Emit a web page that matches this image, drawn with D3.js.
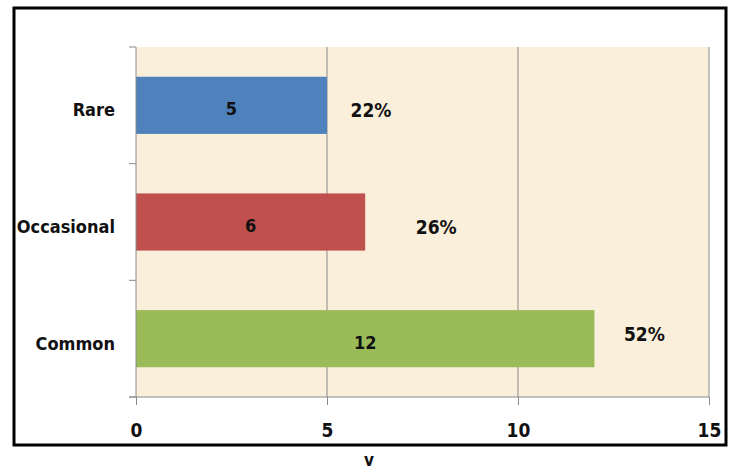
<!DOCTYPE html>
<html><head><meta charset="utf-8">
<script src="https://cdn.jsdelivr.net/npm/d3@7"></script>
<style>
html,body{margin:0;padding:0;background:#fff;}
svg text{font-family:"DejaVu Sans Condensed","Liberation Sans Narrow","Open Sans",sans-serif;font-weight:bold;fill:#111;}
</style></head>
<body>
<svg id="c" width="735" height="471"></svg>
<script>
const categories = ["Rare", "Occasional", "Common"];
const values = [5, 6, 12];
const barColors = ["#4F81BD", "#C0504D", "#9BBB59"];
const xTicks = [0, 5, 10, 15];
const axisTitle = "v";

const total = d3.sum(values);
const pctLabels = values.map(v => Math.round(v / total * 100) + "%");
const pctOffsets = [44, 71, 50];   // px right of bar end (text centre)
const pctDy = [4, 4, -6];

const svg = d3.select("#c");
const m = {left: 136, right: 709, top: 47, bottom: 397};

const x = d3.scaleLinear().domain([0, 15]).range([m.left, m.right]);
const y = d3.scaleBand().domain(categories).range([m.top, m.bottom])
  .paddingInner(0.51).paddingOuter(0.255);

// plot background
svg.append("rect").attr("x", m.left).attr("y", m.top)
  .attr("width", m.right - m.left).attr("height", m.bottom - m.top)
  .attr("fill", "#FAEFDB");

// vertical gridlines
svg.append("g").selectAll("line").data(xTicks.filter(t => t > 0)).join("line")
  .attr("x1", d => x(d)).attr("x2", d => x(d))
  .attr("y1", m.top).attr("y2", m.bottom)
  .attr("stroke", "#8a8a8a").attr("stroke-width", 1);

// bars
svg.append("g").selectAll("rect").data(values).join("rect")
  .attr("x", x(0)).attr("y", (d, i) => y(categories[i]))
  .attr("width", d => x(d) - x(0)).attr("height", y.bandwidth())
  .attr("fill", (d, i) => barColors[i]);

// value labels inside bars
svg.append("g").selectAll("text").data(values).join("text")
  .attr("x", d => (x(0) + x(d)) / 2)
  .attr("y", (d, i) => y(categories[i]) + y.bandwidth() / 2 + 10)
  .attr("text-anchor", "middle").attr("font-size", 18)
  .text(d => d);

// percentage labels
svg.append("g").selectAll("text").data(values).join("text")
  .attr("x", (d, i) => x(d) + pctOffsets[i])
  .attr("y", (d, i) => y(categories[i]) + y.bandwidth() / 2 + 8 + pctDy[i])
  .attr("text-anchor", "middle").attr("font-size", 19)
  .text((d, i) => pctLabels[i]);

// x axis
const xAxis = d3.axisBottom(x).tickValues(xTicks).tickSize(8).tickPadding(19);
const gx = svg.append("g").attr("transform", `translate(0,${m.bottom})`).call(xAxis);
gx.select(".domain").attr("stroke", "#8a8a8a").attr("d", `M${m.left - 7},0H${m.right}`);
gx.selectAll(".tick line").attr("stroke", "#8a8a8a");
gx.selectAll(".tick text").attr("font-size", 19).attr("fill", "#111")
  .style("font-family", null);

// y axis (ticks at category boundaries)
const bounds = [0, 1, 2, 3].map(i => m.top + i * y.step());
svg.append("line").attr("x1", m.left).attr("x2", m.left)
  .attr("y1", m.top).attr("y2", m.bottom).attr("stroke", "#8a8a8a");
svg.append("g").selectAll("line").data(bounds).join("line")
  .attr("x1", m.left - 7).attr("x2", m.left)
  .attr("y1", d => d).attr("y2", d => d)
  .attr("stroke", "#8a8a8a");
svg.append("g").selectAll("text").data(categories).join("text")
  .attr("x", 115).attr("y", d => y(d) + y.bandwidth() / 2 + 11)
  .attr("text-anchor", "end").attr("font-size", 18)
  .text(d => d);

// outer border
svg.append("rect").attr("x", 14).attr("y", 8).attr("width", 712).attr("height", 437)
  .attr("fill", "none").attr("stroke", "#000").attr("stroke-width", 3);

// axis title
svg.append("text").attr("x", 369).attr("y", 466).attr("text-anchor", "middle")
  .attr("font-size", 17).text(axisTitle);
</script>
</body></html>
